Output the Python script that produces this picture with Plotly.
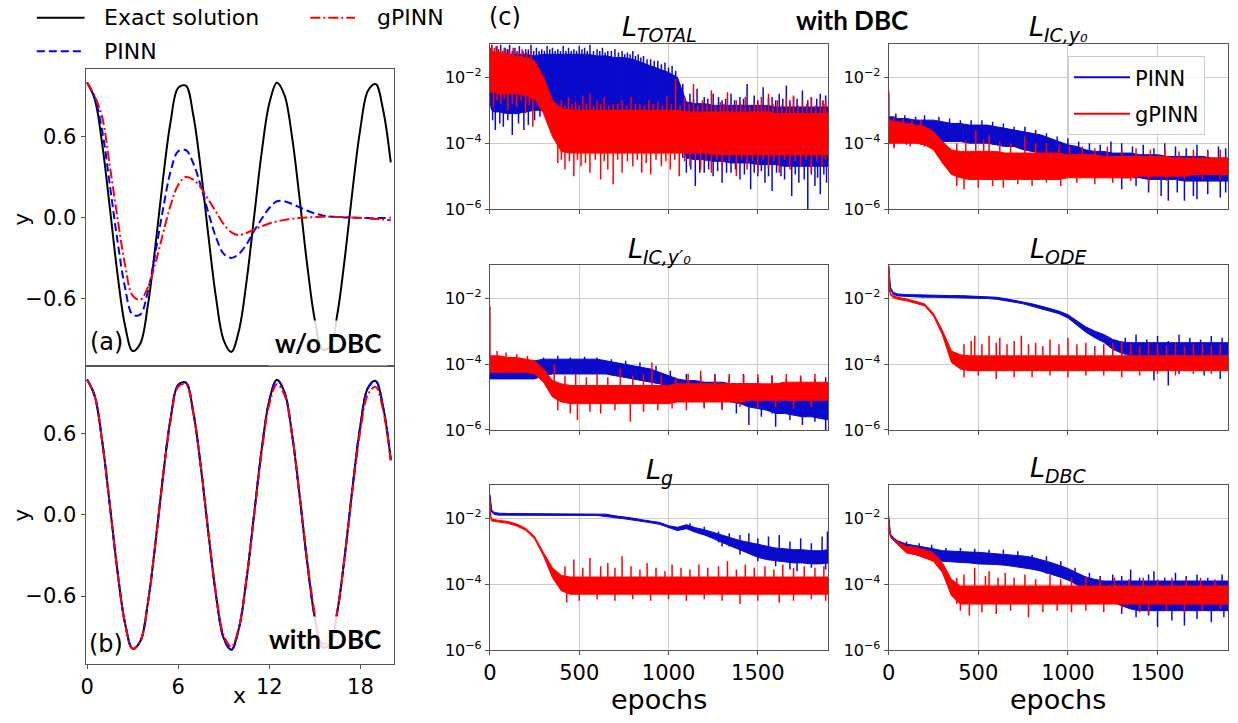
import plotly.graph_objects as go

W, H = 1238, 723

# ---------- left panels: y(x) ----------
X = [0, 0.5, 1, 1.5, 2, 2.5, 3, 3.5, 4, 4.5, 5, 5.5, 6, 6.5, 7, 7.5, 8, 8.5, 9, 9.5, 10,
     10.5, 11, 11.5, 12, 12.5, 13, 13.5, 14, 14.5, 15, 15.5, 16, 16.5, 17, 17.5, 18, 18.5, 19, 19.5, 20]
exact = [1.0, 0.878, 0.54, 0.071, -0.416, -0.801, -0.99, -0.936, -0.654, -0.211, 0.284,
         0.709, 0.96, 0.977, 0.754, 0.347, -0.146, -0.602, -0.911, -0.997, -0.839,
         -0.476, 0.004, 0.483, 0.844, 0.998, 0.907, 0.595, 0.137, -0.355, -0.76,
         -0.979, -0.958, -0.703, -0.275, 0.22, 0.66, 0.939, 0.989, 0.795, 0.408]
pinn_a = [1.0, 0.89, 0.64, 0.24, -0.17, -0.52, -0.72, -0.72, -0.55, -0.26, 0.06,
          0.34, 0.49, 0.5, 0.4, 0.23, 0.03, -0.15, -0.27, -0.3, -0.27,
          -0.2, -0.1, -0.01, 0.07, 0.12, 0.12, 0.1, 0.075, 0.05, 0.03,
          0.015, 0.007, 0.003, 0.0, -0.002, -0.004, -0.005, -0.005, -0.004, -0.003]
gpinn_a = [1.0, 0.9, 0.74, 0.38, 0.0, -0.35, -0.58, -0.61, -0.52, -0.34, -0.12,
           0.09, 0.24, 0.3, 0.28, 0.22, 0.13, 0.04, -0.05, -0.11, -0.13,
           -0.115, -0.09, -0.065, -0.045, -0.03, -0.018, -0.01, -0.004, 0.0, 0.003,
           0.005, 0.005, 0.004, 0.002, 0.0, -0.003, -0.007, -0.011, -0.015, -0.02]
pinn_b = [1.0, 0.878, 0.54, 0.071, -0.416, -0.801, -0.99, -0.936, -0.654, -0.211, 0.284,
          0.709, 0.96, 0.977, 0.754, 0.347, -0.146, -0.602, -0.913, -1.0, -0.841,
          -0.476, 0.004, 0.483, 0.844, 0.996, 0.905, 0.595, 0.137, -0.355, -0.76,
          -0.979, -0.958, -0.703, -0.275, 0.22, 0.66, 0.937, 0.987, 0.793, 0.405]
gpinn_b = [1.0, 0.878, 0.54, 0.07, -0.415, -0.8, -0.99, -0.935, -0.655, -0.215, 0.275,
           0.695, 0.945, 0.965, 0.75, 0.35, -0.135, -0.585, -0.89, -0.975, -0.83,
           -0.475, -0.01, 0.46, 0.815, 0.965, 0.885, 0.59, 0.145, -0.335, -0.73,
           -0.95, -0.935, -0.69, -0.28, 0.2, 0.62, 0.89, 0.945, 0.77, 0.4]

# ---------- right panels: loss, log10 of the dense band's upper / lower edge ----------
EP = [0, 5, 10, 25, 50, 100, 150, 200, 250, 300, 350, 400, 450, 500,
      550, 600, 650, 700, 750, 800, 850, 900, 950, 1000, 1050, 1100, 1150, 1200,
      1250, 1300, 1350, 1400, 1450, 1500, 1550, 1600, 1650, 1700, 1750, 1800, 1850, 1900]

tot_p_hi = [-1.1, -1.2, -1.25, -1.3, -1.3, -1.3, -1.3, -1.3, -1.35, -1.3, -1.3, -1.3, -1.3, -1.3,
            -1.3, -1.35, -1.35, -1.4, -1.4, -1.45, -1.55, -1.65, -1.75, -1.85, -2.0, -2.75, -2.8, -2.8,
            -2.85, -2.85, -2.85, -2.85, -2.85, -2.85, -2.85, -2.9, -2.9, -2.9, -2.9, -2.9, -2.9, -2.9]
tot_p_lo = [-2.7, -2.9, -3.0, -3.05, -3.05, -3.1, -3.1, -3.05, -3.0, -3.0, -3.0, -3.0, -3.0, -3.0,
            -3.0, -3.0, -3.0, -3.0, -3.0, -3.0, -3.0, -3.0, -3.0, -3.0, -3.05, -4.45, -4.5, -4.5,
            -4.55, -4.55, -4.6, -4.6, -4.6, -4.65, -4.65, -4.65, -4.7, -4.7, -4.7, -4.7, -4.7, -4.7]
tot_g_hi = [-1.1, -1.15, -1.2, -1.25, -1.25, -1.3, -1.35, -1.4, -1.5, -2.0, -2.7, -2.95, -3.0, -3.0,
            -3.0, -3.0, -3.0, -3.0, -3.0, -3.0, -3.0, -3.0, -3.0, -3.0, -3.0, -3.05, -3.05, -3.05,
            -3.05, -3.05, -3.05, -3.05, -3.05, -3.05, -3.05, -3.1, -3.1, -3.1, -3.1, -3.1, -3.1, -3.1]
tot_g_lo = [-2.4, -2.45, -2.45, -2.45, -2.5, -2.5, -2.5, -2.55, -2.65, -3.1, -3.8, -4.25, -4.3, -4.3,
            -4.3, -4.3, -4.3, -4.3, -4.3, -4.3, -4.3, -4.3, -4.3, -4.3, -4.3, -4.3, -4.3, -4.3,
            -4.35, -4.35, -4.35, -4.35, -4.35, -4.35, -4.35, -4.35, -4.35, -4.35, -4.35, -4.35, -4.35, -4.35]

icy_p_hi = [-3.2, -3.2, -3.2, -3.2, -3.25, -3.25, -3.3, -3.3, -3.3, -3.35, -3.4, -3.4, -3.45, -3.45,
            -3.45, -3.5, -3.55, -3.6, -3.65, -3.7, -3.75, -3.85, -3.95, -4.05, -4.1, -4.2, -4.25, -4.25,
            -4.3, -4.3, -4.3, -4.35, -4.35, -4.35, -4.4, -4.4, -4.4, -4.4, -4.4, -4.45, -4.45, -4.45]
icy_p_lo = [-4.0, -3.95, -3.95, -3.95, -3.95, -3.95, -3.95, -3.95, -3.95, -3.95, -3.95, -3.95, -4.0, -4.0,
            -4.0, -4.05, -4.1, -4.1, -4.2, -4.25, -4.3, -4.35, -4.45, -4.6, -4.75, -4.85, -4.95, -5.0,
            -5.0, -5.05, -5.05, -5.05, -5.1, -5.1, -5.1, -5.1, -5.15, -5.15, -5.15, -5.15, -5.15, -5.15]
icy_g_hi = [-3.3, -3.3, -3.3, -3.35, -3.35, -3.4, -3.45, -3.5, -3.65, -3.95, -4.2, -4.25, -4.25, -4.25,
            -4.25, -4.25, -4.3, -4.3, -4.3, -4.3, -4.3, -4.3, -4.3, -4.35, -4.35, -4.35, -4.35, -4.4,
            -4.4, -4.4, -4.4, -4.4, -4.4, -4.4, -4.4, -4.45, -4.45, -4.45, -4.45, -4.45, -4.45, -4.45]
icy_g_lo = [-4.0, -4.0, -4.0, -4.0, -4.0, -4.0, -4.0, -4.05, -4.2, -4.6, -4.95, -5.05, -5.1, -5.1,
            -5.1, -5.1, -5.1, -5.1, -5.1, -5.1, -5.1, -5.1, -5.1, -5.05, -5.05, -5.05, -5.05, -5.05,
            -5.05, -5.05, -5.05, -5.0, -5.0, -5.0, -5.0, -5.0, -5.0, -4.95, -4.95, -4.95, -4.95, -4.95]

icd_p_hi = [-4.0, -4.0, -4.0, -4.0, -4.0, -4.0, -4.0, -3.95, -3.9, -3.85, -3.85, -3.85, -3.85, -3.85,
            -3.85, -3.85, -3.9, -3.95, -4.0, -4.05, -4.1, -4.15, -4.25, -4.35, -4.45, -4.5, -4.5, -4.55,
            -4.55, -4.55, -4.6, -4.6, -4.6, -4.6, -4.65, -4.6, -4.65, -4.65, -4.65, -4.65, -4.65, -4.65]
icd_p_lo = [-4.45, -4.45, -4.45, -4.45, -4.45, -4.45, -4.45, -4.45, -4.45, -4.35, -4.3, -4.3, -4.3, -4.3,
            -4.3, -4.3, -4.3, -4.35, -4.4, -4.45, -4.5, -4.55, -4.6, -4.7, -4.85, -4.95, -5.05, -5.05,
            -5.1, -5.1, -5.15, -5.2, -5.3, -5.35, -5.4, -5.5, -5.5, -5.55, -5.6, -5.6, -5.65, -5.7]
icd_g_hi = [-3.75, -3.75, -3.75, -3.75, -3.75, -3.8, -3.8, -3.85, -3.9, -4.15, -4.5, -4.6, -4.65, -4.65,
            -4.65, -4.65, -4.65, -4.65, -4.65, -4.65, -4.65, -4.65, -4.65, -4.65, -4.6, -4.6, -4.6, -4.6,
            -4.6, -4.6, -4.6, -4.6, -4.6, -4.6, -4.6, -4.6, -4.55, -4.55, -4.55, -4.55, -4.55, -4.55]
icd_g_lo = [-4.25, -4.25, -4.25, -4.25, -4.25, -4.25, -4.25, -4.25, -4.3, -4.55, -5.0, -5.15, -5.2, -5.2,
            -5.2, -5.2, -5.2, -5.2, -5.2, -5.2, -5.2, -5.2, -5.2, -5.2, -5.15, -5.15, -5.15, -5.15,
            -5.15, -5.15, -5.15, -5.15, -5.1, -5.1, -5.1, -5.1, -5.1, -5.1, -5.1, -5.1, -5.1, -5.1]

ode_p_hi = [-1.0, -1.47, -1.67, -1.82, -1.87, -1.89, -1.9, -1.91, -1.91, -1.92, -1.92, -1.92, -1.93, -1.94,
            -1.95, -1.97, -2.01, -2.06, -2.11, -2.17, -2.24, -2.31, -2.39, -2.5, -2.68, -2.87, -3.0, -3.1,
            -3.25, -3.33, -3.35, -3.35, -3.35, -3.35, -3.35, -3.35, -3.35, -3.35, -3.35, -3.35, -3.35, -3.35]
ode_p_lo = [-1.05, -1.53, -1.73, -1.88, -1.93, -1.95, -1.96, -1.97, -1.97, -1.98, -1.98, -1.98, -1.99, -2.0,
            -2.01, -2.03, -2.07, -2.12, -2.17, -2.23, -2.32, -2.39, -2.47, -2.6, -2.82, -3.03, -3.2, -3.34,
            -3.55, -3.67, -3.75, -3.8, -3.85, -3.85, -3.85, -3.85, -3.85, -3.85, -3.85, -3.85, -3.85, -3.85]
ode_g_hi = [-1.0, -1.72, -1.85, -1.92, -1.97, -2.02, -2.09, -2.17, -2.46, -2.98, -3.6, -3.72, -3.75, -3.75,
            -3.75, -3.75, -3.75, -3.75, -3.75, -3.75, -3.75, -3.75, -3.75, -3.75, -3.75, -3.75, -3.75, -3.75,
            -3.75, -3.75, -3.75, -3.75, -3.75, -3.75, -3.75, -3.75, -3.75, -3.75, -3.75, -3.75, -3.75, -3.75]
ode_g_lo = [-1.05, -1.78, -1.91, -1.98, -2.03, -2.08, -2.15, -2.23, -2.54, -3.12, -3.95, -4.15, -4.2, -4.2,
            -4.2, -4.2, -4.2, -4.2, -4.2, -4.2, -4.2, -4.2, -4.2, -4.2, -4.2, -4.2, -4.2, -4.2,
            -4.2, -4.2, -4.2, -4.2, -4.2, -4.2, -4.2, -4.2, -4.2, -4.2, -4.2, -4.2, -4.2, -4.2]

g_p_hi = [-1.27, -1.62, -1.75, -1.82, -1.84, -1.85, -1.85, -1.85, -1.85, -1.85, -1.85, -1.85, -1.85, -1.85,
          -1.85, -1.85, -1.87, -1.92, -1.95, -1.99, -2.04, -2.07, -2.12, -2.22, -2.27, -2.19, -2.28, -2.34,
          -2.43, -2.51, -2.59, -2.67, -2.73, -2.78, -2.85, -2.9, -2.92, -2.95, -2.95, -2.98, -2.98, -2.95]
g_p_lo = [-1.33, -1.68, -1.81, -1.88, -1.9, -1.91, -1.91, -1.91, -1.91, -1.91, -1.91, -1.91, -1.91, -1.91,
          -1.91, -1.91, -1.93, -1.98, -2.01, -2.05, -2.1, -2.13, -2.18, -2.28, -2.37, -2.31, -2.42, -2.5,
          -2.61, -2.73, -2.85, -2.97, -3.07, -3.18, -3.25, -3.3, -3.32, -3.35, -3.35, -3.38, -3.38, -3.35]
g_g_hi = [-1.42, -1.95, -2.02, -2.04, -2.06, -2.09, -2.17, -2.3, -2.55, -3.04, -3.5, -3.73, -3.78, -3.78,
          -3.78, -3.78, -3.78, -3.78, -3.78, -3.78, -3.78, -3.78, -3.78, -3.78, -3.78, -3.78, -3.78, -3.78,
          -3.78, -3.78, -3.78, -3.78, -3.78, -3.78, -3.78, -3.78, -3.78, -3.78, -3.78, -3.78, -3.78, -3.78]
g_g_lo = [-1.48, -2.01, -2.08, -2.1, -2.12, -2.15, -2.23, -2.36, -2.62, -3.14, -3.8, -4.2, -4.3, -4.3,
          -4.3, -4.3, -4.3, -4.3, -4.3, -4.3, -4.3, -4.3, -4.3, -4.3, -4.3, -4.3, -4.3, -4.3,
          -4.3, -4.3, -4.3, -4.3, -4.3, -4.3, -4.3, -4.3, -4.3, -4.3, -4.3, -4.3, -4.3, -4.3]

dbc_p_hi = [-1.93, -2.32, -2.47, -2.58, -2.68, -2.78, -2.82, -2.88, -2.92, -2.98, -3.0, -3.0, -3.02, -3.03,
            -3.05, -3.06, -3.08, -3.1, -3.14, -3.18, -3.25, -3.33, -3.42, -3.52, -3.65, -3.78, -3.85, -3.9,
            -3.9, -3.9, -3.9, -3.9, -3.9, -3.9, -3.9, -3.9, -3.9, -3.9, -3.9, -3.9, -3.9, -3.9]
dbc_p_lo = [-1.98, -2.38, -2.53, -2.66, -2.78, -3.03, -3.08, -3.15, -3.22, -3.3, -3.32, -3.33, -3.35, -3.38,
            -3.4, -3.4, -3.42, -3.45, -3.5, -3.54, -3.6, -3.68, -3.77, -3.87, -4.0, -4.15, -4.3, -4.42,
            -4.55, -4.65, -4.75, -4.8, -4.8, -4.8, -4.8, -4.8, -4.8, -4.8, -4.8, -4.8, -4.8, -4.8]
dbc_g_hi = [-2.03, -2.37, -2.52, -2.62, -2.72, -2.85, -2.88, -2.95, -3.05, -3.35, -3.85, -4.05, -4.05, -4.05,
            -4.05, -4.05, -4.05, -4.05, -4.05, -4.05, -4.05, -4.05, -4.05, -4.05, -4.05, -4.05, -4.05, -4.05,
            -4.05, -4.05, -4.05, -4.05, -4.05, -4.05, -4.05, -4.05, -4.05, -4.05, -4.05, -4.05, -4.05, -4.05]
dbc_g_lo = [-2.08, -2.43, -2.58, -2.68, -2.8, -3.05, -3.1, -3.2, -3.3, -3.65, -4.35, -4.6, -4.6, -4.6,
            -4.6, -4.6, -4.6, -4.6, -4.6, -4.6, -4.6, -4.6, -4.6, -4.6, -4.6, -4.6, -4.6, -4.6,
            -4.6, -4.6, -4.6, -4.6, -4.6, -4.6, -4.6, -4.6, -4.6, -4.6, -4.6, -4.6, -4.6, -4.6]

# noise spikes sticking out of the bands: (epoch, log10 of the tip)
tot_p_spk = [(10, -1.0), (35, -1.05), (60, -1.0), (85, -1.1), (110, -1.0), (140, -1.1), (165, -1.05),
             (200, -1.15), (230, -1.0), (260, -1.1), (290, -1.15), (320, -1.05), (350, -1.1), (380, -1.15),
             (410, -1.05), (440, -1.1), (470, -1.15), (500, -1.05), (530, -1.1), (560, -1.0), (600, -1.15),
             (630, -1.1), (660, -1.2), (700, -1.15), (740, -1.2), (770, -1.25), (800, -1.2), (830, -1.3),
             (860, -1.35), (900, -1.45), (940, -1.5), (980, -1.55), (1020, -1.65),
             (22, -1.2), (48, -1.15), (72, -1.2), (97, -1.15), (125, -1.2), (152, -1.2), (185, -1.2),
             (215, -1.15), (245, -1.2), (275, -1.2), (305, -1.2), (335, -1.15), (365, -1.2), (395, -1.2),
             (425, -1.2), (455, -1.2), (485, -1.2), (515, -1.15), (545, -1.2), (580, -1.2), (615, -1.2),
             (645, -1.25), (680, -1.2), (720, -1.25), (755, -1.3), (785, -1.3), (815, -1.35), (845, -1.4),
             (880, -1.45), (920, -1.5), (960, -1.6), (1000, -1.7), (1040, -1.8),
             (15, -3.3), (30, -3.6), (55, -3.4), (75, -3.5), (100, -3.3), (125, -3.75), (160, -3.4),
             (190, -3.6), (215, -3.45), (250, -3.3), (280, -3.2),
             (1080, -2.2), (1120, -2.5), (1160, -2.35), (1200, -2.6), (1250, -2.5), (1300, -2.7), (1350, -2.5),
             (1400, -2.6), (1440, -2.2), (1480, -2.55), (1530, -2.3), (1580, -2.6), (1620, -2.5), (1660, -2.25),
             (1700, -2.6), (1750, -2.4), (1800, -2.6), (1850, -2.5), (1880, -2.55),
             (1140, -2.7), (1220, -2.65), (1280, -2.6), (1320, -2.65), (1370, -2.7), (1420, -2.65),
             (1500, -2.7), (1560, -2.65), (1600, -2.7), (1640, -2.65), (1680, -2.7), (1720, -2.65),
             (1780, -2.7), (1830, -2.65), (1865, -2.7),
             (1100, -4.9), (1150, -5.3), (1200, -4.9), (1250, -5.0), (1300, -5.2), (1350, -4.9), (1400, -5.1),
             (1460, -5.4), (1500, -5.0), (1540, -5.2), (1580, -5.45), (1630, -5.0), (1690, -5.6), (1730, -5.2),
             (1780, -6.0), (1820, -5.3), (1850, -5.55), (1885, -5.2),
             (1125, -4.8), (1175, -4.9), (1225, -4.8), (1275, -4.85), (1325, -4.9), (1375, -4.8),
             (1425, -4.95), (1480, -4.9), (1520, -4.85), (1560, -5.0), (1605, -4.9), (1650, -5.1),
             (1710, -4.95), (1760, -5.1), (1800, -4.95), (1835, -5.05), (1870, -4.95)]
tot_g_spk = [(10, -1.0), (40, -1.05), (80, -1.1), (130, -1.1), (180, -1.15), (230, -1.2),
             (25, -1.1), (60, -1.15), (105, -1.15), (155, -1.2), (205, -1.25),
             (400, -2.7), (440, -2.6), (480, -2.75), (520, -2.55), (560, -2.5), (600, -2.7), (640, -2.6),
             (690, -2.8), (740, -2.7), (790, -2.6), (840, -2.8), (890, -2.7), (940, -2.75), (990, -2.55),
             (1040, -2.05), (1090, -2.6), (1140, -2.2), (1190, -2.7), (1240, -2.4), (1290, -2.75),
             (1330, -2.45), (1380, -2.7), (1430, -2.6), (1480, -2.75), (1520, -2.6), (1560, -2.5),
             (1610, -2.7), (1660, -2.6), (1700, -2.55), (1750, -2.7), (1800, -2.6), (1850, -2.65), (1880, -2.7),
             (420, -2.85), (460, -2.8), (500, -2.85), (540, -2.8), (580, -2.85), (620, -2.8), (665, -2.85),
             (715, -2.8), (765, -2.85), (815, -2.8), (865, -2.85), (915, -2.8), (965, -2.85), (1015, -2.8),
             (1065, -2.85), (1115, -2.8), (1165, -2.85), (1215, -2.8), (1265, -2.85), (1310, -2.8),
             (1355, -2.85), (1405, -2.8), (1455, -2.85), (1500, -2.8), (1540, -2.85), (1585, -2.8),
             (1635, -2.85), (1680, -2.8), (1725, -2.85), (1775, -2.8), (1825, -2.85), (1870, -2.8),
             (20, -2.9), (60, -2.8), (100, -3.0), (150, -2.9), (200, -3.1), (240, -3.5),
             (40, -2.7), (80, -2.65), (125, -2.8), (175, -2.7), (220, -2.85),
             (380, -4.6), (420, -4.8), (470, -5.0), (510, -4.7), (560, -4.9), (620, -5.1), (660, -4.8),
             (690, -5.25), (740, -4.9), (800, -4.7), (850, -4.9), (900, -4.95), (960, -4.7), (1010, -4.8),
             (1060, -5.0), (1120, -4.7), (1180, -4.8), (1240, -4.9), (1300, -4.7), (1380, -5.0), (1440, -4.8),
             (1500, -4.9), (1560, -4.75), (1620, -4.9), (1680, -4.8), (1740, -4.7), (1800, -4.85), (1860, -4.7),
             (400, -4.5), (445, -4.55), (490, -4.5), (535, -4.6), (590, -4.5), (640, -4.55), (715, -4.5),
             (770, -4.55), (825, -4.5), (875, -4.6), (930, -4.5), (985, -4.55), (1035, -4.5), (1090, -4.55),
             (1150, -4.5), (1210, -4.55), (1270, -4.5), (1340, -4.55), (1410, -4.5), (1470, -4.55),
             (1530, -4.5), (1590, -4.55), (1650, -4.5), (1710, -4.55), (1770, -4.5), (1830, -4.55), (1880, -4.5)]
icy_p_spk = [(0, -2.5), (40, -3.1), (90, -3.15), (150, -3.2), (200, -3.15), (280, -3.2), (340, -3.25),
             (400, -3.3), (460, -3.3), (520, -3.3), (580, -3.35), (640, -3.4), (700, -3.5), (760, -3.5),
             (820, -3.6), (880, -3.7), (940, -3.8), (1000, -3.85), (1060, -3.95), (1120, -4.0), (1180, -4.05),
             (1240, -3.95), (1300, -4.0), (1360, -4.1), (1420, -4.05), (1480, -4.15), (1540, -4.0), (1600, -4.1),
             (1660, -4.15), (1720, -4.05), (1780, -4.2), (1840, -4.1), (1880, -4.15),
             (30, -4.1), (100, -4.05), (200, -4.1), (1300, -5.4), (1380, -5.3), (1450, -5.5), (1520, -5.6),
             (1560, -5.75), (1610, -5.5), (1650, -5.75), (1700, -5.6), (1720, -5.7), (1780, -5.55),
             (1850, -5.65), (1880, -5.5)]
icy_g_spk = [(0, -2.4), (30, -3.2), (80, -3.25), (130, -3.3), (180, -3.3), (380, -4.0), (430, -3.9),
             (486, -3.6), (530, -3.9), (560, -3.75), (620, -3.95), (680, -4.0), (760, -3.8), (820, -4.0),
             (880, -4.0), (950, -4.05), (1010, -4.1), (1080, -4.1), (1150, -4.15), (1220, -4.1), (1300, -4.2),
             (1380, -4.15), (1460, -4.2), (1540, -4.15), (1620, -4.25), (1700, -4.2), (1780, -4.25),
             (1850, -4.2),
             (30, -4.15), (120, -4.1), (380, -5.3), (420, -5.4), (500, -5.35), (580, -5.3), (640, -5.35),
             (720, -5.25), (800, -5.3), (880, -5.2), (960, -5.3), (1050, -5.2), (1150, -5.25), (1250, -5.2),
             (1350, -5.15), (1450, -5.2), (1550, -5.15), (1650, -5.1), (1750, -5.1), (1850, -5.1)]
icd_p_spk = [(30, -3.9), (100, -3.95), (300, -3.8), (380, -3.75), (450, -3.8), (530, -3.78), (600, -3.8),
             (680, -3.85), (760, -3.9), (840, -3.95), (930, -4.05), (1010, -4.2), (1100, -4.3), (1180, -4.35),
             (1260, -4.3), (1340, -4.4), (1420, -4.3), (1500, -4.4), (1580, -4.35), (1660, -4.45),
             (1740, -4.4), (1820, -4.45), (1880, -4.4),
             (1200, -5.3), (1300, -5.35), (1380, -5.5), (1450, -5.85), (1520, -5.6), (1600, -5.9),
             (1680, -5.7), (1750, -5.85), (1820, -5.75), (1880, -6.0)]
icd_g_spk = [(0, -2.25), (40, -3.6), (90, -3.65), (150, -3.7), (210, -3.75), (360, -4.0), (420, -4.35),
             (480, -4.3), (540, -4.4), (600, -4.3), (660, -4.4), (730, -4.15), (800, -4.35), (860, -4.3),
             (907, -3.95), (960, -4.35), (1040, -4.4), (1110, -4.3), (1180, -4.2), (1260, -4.35), (1340, -4.3),
             (1420, -4.35), (1500, -4.3), (1580, -4.35), (1660, -4.3), (1740, -4.35), (1820, -4.3),
             (380, -5.4), (450, -5.5), (490, -5.7), (560, -5.45), (620, -5.5), (700, -5.4), (786, -5.75),
             (860, -5.45), (940, -5.4), (1020, -5.35), (1100, -5.4), (1200, -5.35), (1300, -5.4),
             (1400, -5.3), (1500, -5.35), (1600, -5.3), (1700, -5.35), (1800, -5.3)]
ode_p_spk = [(1320, -3.2), (1380, -3.1), (1440, -3.25), (1500, -3.15), (1560, -3.3), (1620, -3.1),
             (1680, -3.2), (1740, -3.25), (1800, -3.15), (1860, -3.2),
             (1350, -4.1), (1420, -4.2), (1480, -4.5), (1560, -4.65), (1620, -4.3), (1700, -4.2),
             (1760, -4.35), (1850, -4.45)]
ode_g_spk = [(420, -3.4), (460, -3.3), (480, -3.14), (520, -3.4), (560, -3.14), (600, -3.35), (620, -3.2),
             (660, -3.4), (700, -3.3), (740, -3.14), (780, -3.4), (820, -3.35), (860, -3.45), (900, -3.25),
             (950, -3.4), (1000, -3.2), (1050, -3.4), (1100, -3.35), (1150, -3.45), (1200, -3.4), (1250, -3.35),
             (1300, -3.3), (1350, -3.4), (1400, -3.45), (1450, -3.35), (1500, -3.4), (1550, -3.45),
             (1600, -3.35), (1650, -3.45), (1700, -3.4), (1750, -3.4), (1800, -3.45), (1850, -3.4),
             (420, -4.4), (500, -4.35), (600, -4.45), (700, -4.4), (800, -4.4), (900, -4.35), (1000, -4.4),
             (1100, -4.35), (1200, -4.35), (1300, -4.4), (1400, -4.35), (1500, -4.3), (1600, -4.35),
             (1700, -4.3), (1800, -4.3)]
g_p_spk = [(1120, -2.15), (1200, -2.25), (1280, -2.4), (1340, -2.45), (1400, -2.5), (1450, -2.45),
           (1500, -2.6), (1560, -2.55), (1620, -2.5), (1680, -2.7), (1740, -2.6), (1800, -2.75), (1860, -2.55),
           (1890, -2.4),
           (1300, -2.85), (1400, -3.1), (1500, -3.3), (1600, -3.45), (1680, -3.55), (1720, -3.6),
           (1800, -3.5), (1880, -3.55)]
g_g_spk = [(420, -3.45), (470, -3.25), (520, -3.5), (560, -3.2), (620, -3.45), (660, -3.35), (700, -3.5),
           (740, -3.15), (790, -3.45), (840, -3.55), (880, -3.35), (930, -3.5), (980, -3.6), (1020, -3.4),
           (1070, -3.5), (1120, -3.55), (1170, -3.4), (1220, -3.5), (1280, -3.45), (1330, -3.3), (1380, -3.55),
           (1430, -3.4), (1480, -3.5), (1540, -3.45), (1590, -3.55), (1640, -3.4), (1700, -3.5),
           (1760, -3.45), (1820, -3.5), (1870, -3.45),
           (430, -4.55), (500, -4.5), (600, -4.45), (700, -4.5), (800, -4.45), (900, -4.5), (1000, -4.45),
           (1100, -4.5), (1200, -4.45), (1300, -4.5), (1400, -4.6), (1500, -4.5), (1620, -4.55),
           (1700, -4.5), (1800, -4.45), (1880, -4.5)]
dbc_p_spk = [(100, -2.7), (170, -2.75), (240, -2.8), (320, -2.9), (400, -2.9), (480, -2.92), (560, -2.95),
             (640, -2.95), (720, -3.0), (800, -3.1), (880, -3.15), (960, -3.3), (1040, -3.5), (1120, -3.65),
             (1180, -3.75), (1250, -3.7), (1300, -3.75), (1350, -3.55), (1400, -3.8), (1450, -3.7),
             (1480, -3.6), (1540, -3.8), (1600, -3.65), (1660, -3.75), (1720, -3.7), (1780, -3.8),
             (1860, -3.7),
             (1300, -4.9), (1380, -5.0), (1450, -4.95), (1500, -5.3), (1580, -5.1), (1650, -5.25),
             (1720, -5.05), (1800, -5.15), (1870, -5.0)]
dbc_g_spk = [(380, -3.8), (420, -3.7), (480, -3.5), (540, -3.75), (560, -3.6), (610, -3.8), (650, -3.65),
             (700, -3.8), (760, -3.7), (820, -3.85), (900, -3.7), (960, -3.85), (1020, -3.8), (1100, -3.75),
             (1180, -3.85), (1260, -3.8), (1340, -3.85), (1420, -3.8), (1500, -3.85), (1580, -3.8),
             (1660, -3.85), (1740, -3.8), (1820, -3.85),
             (400, -4.8), (450, -4.95), (520, -4.85), (600, -4.9), (680, -4.8), (780, -5.0), (860, -4.85),
             (940, -4.8), (1020, -4.85), (1100, -4.8), (1200, -4.85), (1300, -4.75), (1400, -4.85),
             (1450, -4.9), (1550, -4.8), (1650, -4.85), (1750, -4.8), (1850, -4.75)]

BLUE = '#0a0acc'
RED = '#ff0000'
FONT = 'DejaVu Sans'


def px(p):
    return p / W


def py(p):
    return 1 - p / H


def dec(v):
    return [10 ** e for e in v]


def band(hi, lo, color, ax):
    return go.Scatter(x=EP + EP[::-1], y=dec(hi) + dec(lo[::-1]), mode='lines', fill='toself',
                      fillcolor=color, line=dict(color=color, width=1), xaxis='x' + ax, yaxis='y' + ax,
                      showlegend=False, hoverinfo='skip')


def spikes(hi, lo, lst, color, ax):
    # each spike leaves the band from its far edge, so it always joins the band
    xs, ys = [], []
    for e, tip in lst:
        k = min(range(len(EP)), key=lambda j: abs(EP[j] - e))
        base = lo[k] if tip > hi[k] else hi[k]
        xs += [e, e, None]
        ys += [10 ** base, 10 ** tip, None]
    return go.Scatter(x=xs, y=ys, mode='lines', line=dict(color=color, width=1.5),
                      xaxis='x' + ax, yaxis='y' + ax, showlegend=False, hoverinfo='skip')


fig = go.Figure()

# (a) and (b)
for ax, p, g in [('', pinn_a, gpinn_a), ('2', pinn_b, gpinn_b)]:
    fig.add_trace(go.Scatter(x=X, y=exact, mode='lines', line=dict(color='black', width=2, shape='spline'),
                             xaxis='x' + ax, yaxis='y' + ax, showlegend=False))
    fig.add_trace(go.Scatter(x=X, y=p, mode='lines',
                             line=dict(color='#0000ff', width=2, dash='8px,4px', shape='spline'),
                             xaxis='x' + ax, yaxis='y' + ax, showlegend=False))
    fig.add_trace(go.Scatter(x=X, y=g, mode='lines',
                             line=dict(color=RED, width=2, dash='10px,3px,2px,3px', shape='spline'),
                             xaxis='x' + ax, yaxis='y' + ax, showlegend=False))

# (c) loss histories
panels = [
    ('3', tot_p_hi, tot_p_lo, tot_p_spk, tot_g_hi, tot_g_lo, tot_g_spk),
    ('4', icy_p_hi, icy_p_lo, icy_p_spk, icy_g_hi, icy_g_lo, icy_g_spk),
    ('5', icd_p_hi, icd_p_lo, icd_p_spk, icd_g_hi, icd_g_lo, icd_g_spk),
    ('6', ode_p_hi, ode_p_lo, ode_p_spk, ode_g_hi, ode_g_lo, ode_g_spk),
    ('7', g_p_hi, g_p_lo, g_p_spk, g_g_hi, g_g_lo, g_g_spk),
    ('8', dbc_p_hi, dbc_p_lo, dbc_p_spk, dbc_g_hi, dbc_g_lo, dbc_g_spk),
]
for ax, phi, plo, pspk, ghi, glo, gspk in panels:
    fig.add_trace(band(phi, plo, BLUE, ax))
    fig.add_trace(spikes(phi, plo, pspk, BLUE, ax))
    fig.add_trace(band(ghi, glo, RED, ax))
    fig.add_trace(spikes(ghi, glo, gspk, RED, ax))

# legend entries for (c)
fig.add_trace(go.Scatter(x=[None], y=[None], mode='lines', line=dict(color=BLUE, width=2), name='PINN',
                         xaxis='x4', yaxis='y4', legendgroup='p'))
fig.add_trace(go.Scatter(x=[None], y=[None], mode='lines', line=dict(color=RED, width=2), name='gPINN',
                         xaxis='x4', yaxis='y4', legendgroup='g'))

frame = dict(showline=True, mirror=True, linecolor='#555555', linewidth=1, ticks='outside', ticklen=4,
             tickcolor='#555555', zeroline=False, showgrid=False, tickfont=dict(size=21))
LX = [px(79), px(389)]
lay = dict(
    xaxis=dict(frame, domain=LX, anchor='y', range=[-0.1, 20.2], showticklabels=False, ticks=''),
    yaxis=dict(frame, domain=[py(371), py(70)], anchor='x', range=[-1.1, 1.1],
               tickvals=[-0.6, 0, 0.6], ticktext=['\u22120.6', '0.0', '0.6']),
    xaxis2=dict(frame, domain=LX, anchor='y2', range=[-0.1, 20.2], tickvals=[0, 6, 12, 18]),
    yaxis2=dict(frame, domain=[py(673), py(371)], anchor='x2', range=[-1.1, 1.1],
                tickvals=[-0.6, 0, 0.6], ticktext=['\u22120.6', '0.0', '0.6']),
)
cols = [[px(485.7), px(826)], [px(886.7), px(1228.3)]]
rows = [[py(212), py(45)], [py(436), py(269)], [py(659.3), py(492.3)]]
for i in range(6):
    n = str(i + 3)
    r, c = divmod(i, 2)
    lay['xaxis' + n] = dict(frame, domain=cols[c], anchor='y' + n, range=[0, 1895],
                            tickvals=[0, 500, 1000, 1500], showgrid=True, gridcolor='#cccccc',
                            showticklabels=(r == 2))
    lay['yaxis' + n] = dict(frame, domain=rows[r], anchor='x' + n, type='log', range=[-6, -1],
                            tickvals=[1e-6, 1e-4, 1e-2], showgrid=True, gridcolor='#cccccc',
                            ticktext=['10<sup>\u22126</sup>', '10<sup>\u22124</sup>', '10<sup>\u22122</sup>'],
                            tickfont=dict(size=16))


def note(text, x, y, size, **kw):
    fam = kw.pop('family', FONT)
    kw.setdefault('xanchor', 'center')
    kw.setdefault('yanchor', 'middle')
    return dict(text=text, x=px(x), y=py(y), xref='paper', yref='paper', showarrow=False,
                font=dict(size=size, family=fam, color='black'), **kw)


titles = [('TOTAL', 656, 29), ('IC,y\u2080', 1057, 29), ('IC,y\u2032\u2080', 656, 254),
          ('ODE', 1057, 254), ('g', 656, 478), ('DBC', 1057, 476)]
ann = [note('<i>L<sub>%s</sub></i>' % t, x, y, 27) for t, x, y in titles]
ann += [
    note('(a)', 100, 347, 24),
    note('(b)', 100, 653, 24),
    note('<b>w/o DBC</b>', 383, 348, 26, family='Lato', xanchor='right',
         bgcolor='rgba(255,255,255,0.85)', borderpad=6),
    note('<b>with DBC</b>', 383, 648, 26, family='Lato', xanchor='right',
         bgcolor='rgba(255,255,255,0.85)', borderpad=6),
    note('(c)', 501, 17, 24),
    note('<b>with DBC</b>', 850, 20, 26, family='Lato'),
    note('y', 15, 222, 22, textangle=-90),
    note('y', 15, 522, 22, textangle=-90),
    note('x', 234, 705, 22),
    note('epochs', 656, 709, 27),
    note('epochs', 1057, 709, 27),
    note('Exact solution', 96, 18, 22, xanchor='left'),
    note('PINN', 96, 52, 22, xanchor='left'),
    note('gPINN', 370, 18, 22, xanchor='left'),
]

shapes = [
    dict(type='line', xref='paper', yref='paper', x0=px(30), x1=px(78), y0=py(18), y1=py(18),
         line=dict(color='black', width=2)),
    dict(type='line', xref='paper', yref='paper', x0=px(30), x1=px(78), y0=py(52), y1=py(52),
         line=dict(color='#0000ff', width=2, dash='8px,4px')),
    dict(type='line', xref='paper', yref='paper', x0=px(305), x1=px(350), y0=py(18), y1=py(18),
         line=dict(color=RED, width=2, dash='10px,3px,2px,3px')),
]

fig.update_layout(
    width=W, height=H, margin=dict(l=0, r=0, t=0, b=0),
    paper_bgcolor='white', plot_bgcolor='white',
    font=dict(family=FONT, color='black'),
    annotations=ann, shapes=shapes,
    legend=dict(x=px(1067), y=py(57), xanchor='left', yanchor='top', bgcolor='rgba(255,255,255,0.85)',
                bordercolor='#cccccc', borderwidth=1, font=dict(size=21), itemwidth=56, tracegroupgap=6),
    **lay,
)

fig.write_html("out.html", config={'displayModeBar': False},
               post_script="document.body.style.margin='0';")
